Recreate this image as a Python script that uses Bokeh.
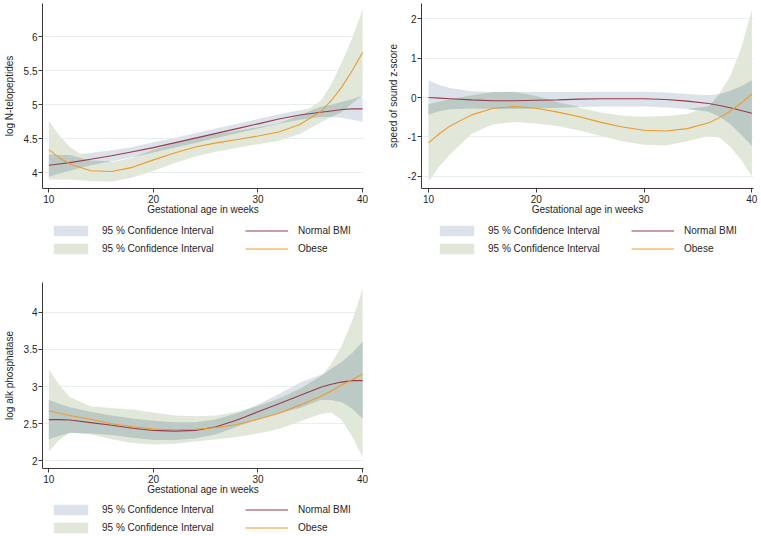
import numpy as np
from bokeh.plotting import figure
from bokeh.layouts import column, row
from bokeh.models import Legend, LegendItem, FixedTicker, NumeralTickFormatter, Range1d
from bokeh.embed import file_html
from bokeh.resources import INLINE

# Gestational week at which the fitted curves are tabulated
weeks = [10, 11, 12, 14, 16, 18, 20, 22, 24, 26, 28, 30, 32, 34, 36, 37, 38, 39, 40]

# log N-telopeptides
ntx_normal_fit = [4.11, 4.13, 4.15, 4.20, 4.25, 4.31, 4.37, 4.44, 4.51, 4.58, 4.65, 4.72, 4.79, 4.85, 4.89, 4.91, 4.93, 4.94, 4.94]
ntx_normal_lo = [3.94, 3.99, 4.03, 4.11, 4.17, 4.23, 4.30, 4.37, 4.44, 4.51, 4.58, 4.65, 4.72, 4.78, 4.82, 4.82, 4.81, 4.78, 4.75]
ntx_normal_hi = [4.27, 4.26, 4.26, 4.29, 4.33, 4.38, 4.45, 4.51, 4.58, 4.65, 4.72, 4.79, 4.86, 4.92, 4.97, 5.00, 5.04, 5.08, 5.12]
ntx_obese_fit = [4.34, 4.22, 4.13, 4.03, 4.02, 4.08, 4.19, 4.29, 4.38, 4.44, 4.49, 4.54, 4.60, 4.71, 4.90, 5.06, 5.26, 5.50, 5.77]
ntx_obese_lo = [3.90, 3.90, 3.90, 3.88, 3.87, 3.93, 4.03, 4.14, 4.24, 4.31, 4.37, 4.42, 4.47, 4.57, 4.74, 4.82, 4.89, 5.02, 5.14]
ntx_obese_hi = [4.76, 4.55, 4.38, 4.18, 4.16, 4.22, 4.34, 4.43, 4.52, 4.57, 4.62, 4.67, 4.73, 4.85, 5.06, 5.30, 5.62, 5.98, 6.40]

# speed of sound z-score
sos_normal_fit = [0.00, -0.015, -0.03, -0.06, -0.08, -0.08, -0.07, -0.06, -0.04, -0.03, -0.03, -0.03, -0.05, -0.09, -0.15, -0.20, -0.26, -0.33, -0.40]
sos_normal_lo = [-0.44, -0.35, -0.30, -0.28, -0.29, -0.29, -0.28, -0.26, -0.24, -0.23, -0.23, -0.23, -0.25, -0.29, -0.36, -0.49, -0.68, -0.94, -1.23]
sos_normal_hi = [0.44, 0.32, 0.24, 0.16, 0.14, 0.14, 0.14, 0.14, 0.14, 0.15, 0.15, 0.15, 0.13, 0.09, 0.06, 0.09, 0.17, 0.29, 0.44]
sos_obese_fit = [-1.15, -0.92, -0.72, -0.44, -0.27, -0.23, -0.27, -0.37, -0.49, -0.63, -0.75, -0.83, -0.85, -0.79, -0.64, -0.51, -0.34, -0.14, 0.09]
sos_obese_lo = [-2.13, -1.75, -1.45, -0.92, -0.68, -0.62, -0.66, -0.72, -0.84, -0.98, -1.11, -1.20, -1.22, -1.11, -0.98, -1.02, -1.25, -1.58, -2.00]
sos_obese_hi = [-0.17, -0.10, -0.04, 0.06, 0.14, 0.15, 0.04, -0.12, -0.26, -0.38, -0.46, -0.49, -0.47, -0.42, -0.22, 0.10, 0.55, 1.25, 2.23]

# log alk phosphatase
alp_normal_fit = [2.555, 2.555, 2.55, 2.515, 2.48, 2.44, 2.41, 2.40, 2.41, 2.46, 2.55, 2.66, 2.77, 2.88, 2.99, 3.03, 3.06, 3.08, 3.08]
alp_normal_lo = [2.29, 2.34, 2.38, 2.37, 2.35, 2.31, 2.28, 2.28, 2.30, 2.36, 2.46, 2.56, 2.64, 2.71, 2.82, 2.82, 2.79, 2.70, 2.57]
alp_normal_hi = [2.82, 2.77, 2.72, 2.66, 2.61, 2.57, 2.54, 2.52, 2.52, 2.56, 2.64, 2.76, 2.90, 3.05, 3.16, 3.24, 3.33, 3.45, 3.60]
alp_obese_fit = [2.67, 2.64, 2.61, 2.56, 2.50, 2.46, 2.43, 2.42, 2.425, 2.45, 2.49, 2.56, 2.64, 2.75, 2.87, 2.94, 3.02, 3.09, 3.17]
alp_obese_lo = [2.13, 2.28, 2.38, 2.36, 2.29, 2.24, 2.22, 2.23, 2.26, 2.29, 2.32, 2.37, 2.43, 2.53, 2.63, 2.65, 2.55, 2.33, 2.05]
alp_obese_hi = [3.23, 3.02, 2.86, 2.73, 2.71, 2.69, 2.65, 2.61, 2.60, 2.61, 2.66, 2.74, 2.84, 2.97, 3.14, 3.30, 3.55, 3.88, 4.31]

x_ticks = [10, 20, 30, 40]
ntx_ticks = [4, 4.5, 5, 5.5, 6]
sos_ticks = [-2, -1, 0, 1, 2]
alp_ticks = [2, 2.5, 3, 3.5, 4]

ci_label = "95 % Confidence Interval"
group_labels = ["Normal BMI", "Obese"]

FONT = "Liberation Sans"
TEXT = "#262626"
AXIS = "#3c3c3c"
GRID = "#e8eff0"
BAND_NORMAL = "#dbe2ea"
BAND_OBESE = "#e1e7d9"
BAND_BOTH = "#bccac5"
LINE_NORMAL = "#9a3b4b"
LINE_OBESE = "#ef9a28"


def panel(ylabel, yticks, yr, xr, nfit, nlo, nhi, ofit, olo, ohi,
          width, height, left, right, top, bottom):
    p = figure(width=width, height=height, x_range=Range1d(*xr), y_range=Range1d(*yr),
               output_backend="svg", toolbar_location=None, title=None,
               min_border_left=left, min_border_right=right,
               min_border_top=top, min_border_bottom=bottom)
    p.outline_line_color = None
    p.background_fill_color = "white"
    p.border_fill_color = "white"

    x = np.array(weeks, dtype=float)
    nlo_a, nhi_a = np.array(nlo), np.array(nhi)
    olo_a, ohi_a = np.array(olo), np.array(ohi)
    # region where the two confidence bands overlap
    both_lo = np.maximum(nlo_a, olo_a)
    both_hi = np.maximum(np.minimum(nhi_a, ohi_a), both_lo)

    p.varea(x=x, y1=nlo_a, y2=nhi_a, fill_color=BAND_NORMAL, fill_alpha=1)
    p.varea(x=x, y1=olo_a, y2=ohi_a, fill_color=BAND_OBESE, fill_alpha=1)
    p.varea(x=x, y1=both_lo, y2=both_hi, fill_color=BAND_BOTH, fill_alpha=1)
    p.line(x, nfit, line_color=LINE_NORMAL, line_width=1.1)
    p.line(x, ofit, line_color=LINE_OBESE, line_width=1.1)

    p.xgrid.visible = False
    p.ygrid.grid_line_color = GRID
    p.ygrid.grid_line_width = 1

    p.xaxis.ticker = FixedTicker(ticks=x_ticks)
    p.yaxis.ticker = FixedTicker(ticks=yticks)
    p.yaxis.formatter = NumeralTickFormatter(format="0.[0]")
    p.xaxis.axis_label = "Gestational age in weeks"
    p.yaxis.axis_label = ylabel
    for ax in (p.xaxis, p.yaxis):
        ax.axis_line_color = AXIS
        ax.major_tick_line_color = AXIS
        ax.minor_tick_line_color = None
        ax.major_tick_in = 0
        ax.major_tick_out = 4
        ax.major_label_text_font = FONT
        ax.major_label_text_font_size = "10px"
        ax.major_label_text_color = TEXT
        ax.axis_label_text_font = FONT
        ax.axis_label_text_font_size = "10px"
        ax.axis_label_text_font_style = "normal"
        ax.axis_label_text_color = TEXT
    p.xaxis.major_label_standoff = 2
    p.xaxis.axis_label_standoff = -2
    p.yaxis.major_label_standoff = 1
    p.yaxis.axis_label_standoff = 6
    return p


def key(width, height, x0, y0, nlo, olo, nfit, ofit):
    # a strip under each panel holding its two-column key; the stand-in
    # renderers hold one point that lies outside the strip's ranges
    k = figure(width=width, height=height, x_range=Range1d(0, 1), y_range=Range1d(0, 1),
               x_axis_type=None, y_axis_type=None, output_backend="svg",
               toolbar_location=None, title=None, min_border=0)
    k.outline_line_color = None
    k.background_fill_color = "white"
    k.border_fill_color = "white"
    k.grid.visible = False
    wx = [weeks[0]]
    nb = k.varea(x=wx, y1=[nlo[0]], y2=[nlo[0]], fill_color=BAND_NORMAL, fill_alpha=1)
    ob = k.varea(x=wx, y1=[olo[0]], y2=[olo[0]], fill_color=BAND_OBESE, fill_alpha=1)
    nl = k.line(x=wx, y=[nfit[0]], line_color=LINE_NORMAL, line_width=1.1)
    ol = k.line(x=wx, y=[ofit[0]], line_color=LINE_OBESE, line_width=1.1)
    legend = Legend(items=[
        LegendItem(label=ci_label, renderers=[nb]),
        LegendItem(label=ci_label, renderers=[ob]),
        LegendItem(label=group_labels[0], renderers=[nl]),
        LegendItem(label=group_labels[1], renderers=[ol]),
    ], orientation="vertical", ncols=2, location=(x0, y0),
        glyph_width=43, glyph_height=13, label_width=139, label_height=14,
        label_standoff=10, spacing=4, padding=0, margin=0,
        border_line_color=None, background_fill_alpha=0,
        label_text_font=FONT, label_text_font_size="10px", label_text_color=TEXT)
    k.add_layout(legend)
    return k


p1 = panel("log N-telopeptides", ntx_ticks, (3.769, 6.49), (9.39, 40.09),
           ntx_normal_fit, ntx_normal_lo, ntx_normal_hi,
           ntx_obese_fit, ntx_obese_lo, ntx_obese_hi,
           width=380, height=222, left=37, right=17, top=3, bottom=34)
p2 = panel("speed of sound z-score", sos_ticks, (-2.311, 2.39), (9.35, 40.15),
           sos_normal_fit, sos_normal_lo, sos_normal_hi,
           sos_obese_fit, sos_obese_lo, sos_obese_hi,
           width=381, height=222, left=41, right=8, top=3, bottom=34)
p3 = panel("log alk phosphatase", alp_ticks, (1.898, 4.399), (9.39, 40.09),
           alp_normal_fit, alp_normal_lo, alp_normal_hi,
           alp_obese_fit, alp_obese_lo, alp_obese_hi,
           width=380, height=222, left=37, right=17, top=2, bottom=34)

k1 = key(380, 58, 7, 25, ntx_normal_lo, ntx_obese_lo, ntx_normal_fit, ntx_obese_fit)
k2 = key(381, 58, 14, 25, sos_normal_lo, sos_obese_lo, sos_normal_fit, sos_obese_fit)
k3 = key(380, 34, 7, 2, alp_normal_lo, alp_obese_lo, alp_normal_fit, alp_obese_fit)

layout = column(row(column(p1, k1), column(p2, k2)), column(p3, k3))
open("out.html", "w").write(file_html(layout, INLINE))
